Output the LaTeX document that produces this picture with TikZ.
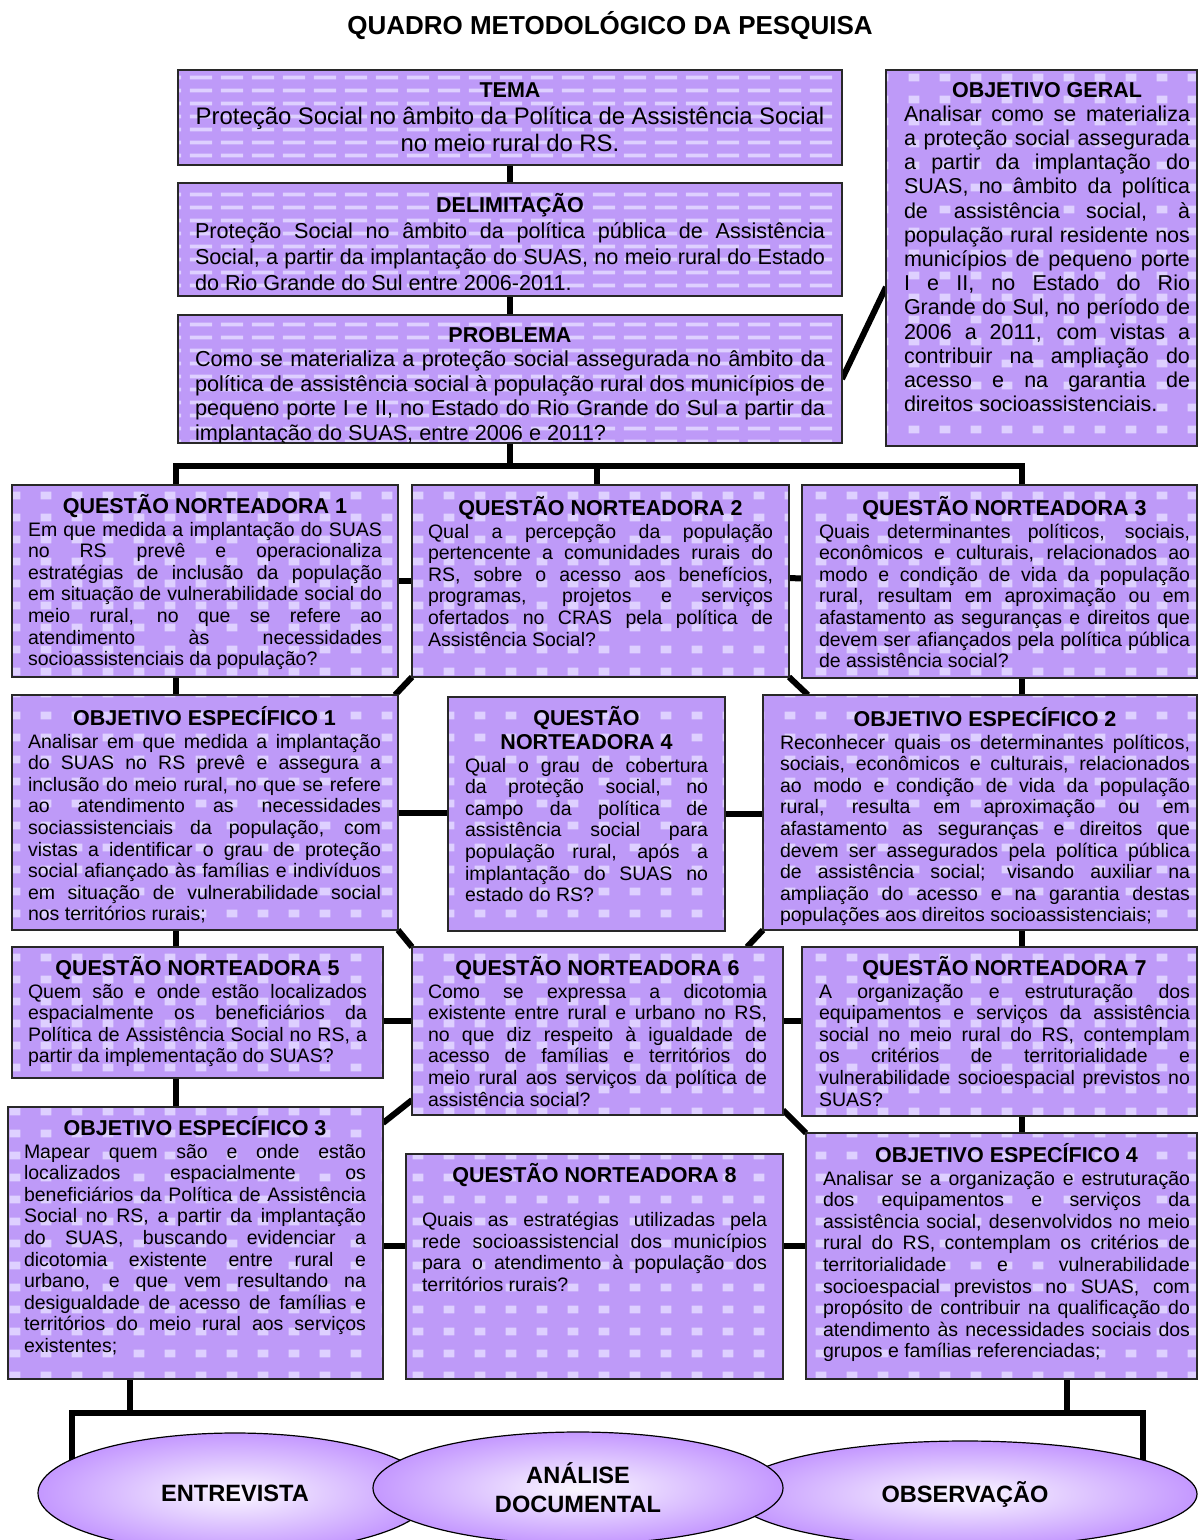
\documentclass[tikz,border=0pt]{standalone}
\usepackage{fontspec}
\setmainfont{Liberation Sans}
\usetikzlibrary{calc,shapes.geometric,patterns.meta}
\definecolor{lil}{RGB}{190,154,248}
\definecolor{lilt}{RGB}{222,208,255}
\definecolor{ellc}{RGB}{196,152,255}
\definecolor{edge}{RGB}{40,40,40}
\pgfdeclarelayer{bg}
\pgfsetlayers{bg,main}
\tikzdeclarepattern{name=tiles,type=uncolored,bottom left={(0pt,0pt)},top right={(31pt,22pt)},tile size={(31pt,22pt)},code={\fill (10pt,7pt) rectangle (21pt,15pt);}}
\tikzdeclarepattern{name=bands,type=uncolored,bottom left={(0pt,0pt)},top right={(31pt,13pt)},tile size={(31pt,13pt)},code={\fill (4pt,5pt) rectangle (27pt,9pt);}}
\newcommand\mybody{\fontsize{19.5}{21.6}\selectfont}
\newcommand\mytitle[1]{{\fontsize{21.5}{22}\selectfont\bfseries\centering #1\par}\vspace{1.4pt}}
\newcommand\jb{\linebreak}
\hyphenpenalty=10000
\exhyphenpenalty=10000
\tikzset{
  boxbase/.style={draw=edge, line width=1.6pt, preaction={fill=lil}, pattern color=lilt, inner sep=0pt, outer sep=0pt, anchor=north west},
  tbox/.style={boxbase, pattern=tiles},
  sbox/.style={boxbase, pattern=bands},
  txt/.style={anchor=base west, inner sep=0pt, outer sep=0pt, align=justify, font=\mybody},
  conn/.style={line width=6pt, draw=black, line join=miter},
  ell/.style={ellipse, draw=black, line width=1.2pt, inner color=ellc!8, outer color=ellc, font=\fontsize{23.6}{29}\selectfont\bfseries, align=center, inner sep=0pt}
}
\newcommand\mkbox[6][tbox]{\node[#1, minimum width={#5-#3}, minimum height={#6-#4}] (#2) at (#3,#4) {};}
\begin{document}
\begin{tikzpicture}[x=1pt,y=-1pt]
\useasboundingbox (0,0) rectangle (1198,1540);
\begin{pgfonlayer}{bg}
\fill[white] (0,0) rectangle (1198,1540);
\end{pgfonlayer}

\node[font=\fontsize{26}{30}\selectfont\bfseries, anchor=base, inner sep=0pt] (title) at (610,34) {QUADRO METODOLÓGICO DA PESQUISA};

% boxes
\mkbox[sbox]{tema}{178}{70}{842}{165}
\mkbox[sbox]{delim}{178}{183}{842}{296}
\mkbox[sbox]{prob}{178}{315}{842}{443}
\mkbox{og}{886}{70}{1197}{446}
\mkbox{qn1}{12}{485}{398}{677}
\mkbox{qn2}{412}{485}{789}{677}
\mkbox{qn3}{802}{485}{1197}{678}
\mkbox{oe1}{12}{695}{398}{930}
\mkbox{qn4}{448}{697}{725}{931}
\mkbox{oe2}{763}{695}{1197}{930}
\mkbox{qn5}{12}{947}{383}{1078}
\mkbox{qn6}{412}{947}{783}{1115}
\mkbox{qn7}{802}{947}{1197}{1116}
\mkbox{oe3}{8}{1107}{383}{1379}
\mkbox{qn8}{406}{1154}{783}{1379}
\mkbox{oe4}{806}{1133}{1197}{1379}

% texts
\node[txt, anchor=base, align=center, text width=660pt] (temat) at (510,97)
  {{\fontsize{21.5}{22}\selectfont\bfseries TEMA\par}{\fontsize{23.9}{27}\selectfont Proteção Social no âmbito da Política de Assistência Social\\ no meio rural do RS.\par}};
\node[txt, text width=630pt] (delimt) at (195,212)
  {{\fontsize{21.5}{22}\selectfont\bfseries\centering DELIMITAÇÃO\par}{\fontsize{21.6}{26}\selectfont Proteção Social no âmbito da política pública de Assistência\jb Social, a partir da implantação do SUAS, no meio rural do Estado\jb do Rio Grande do Sul entre 2006-2011.\par}};
\begin{scope}
\clip ($(prob.north west)+(1,1)$) rectangle ($(prob.south east)+(-1,-1)$);
\node[txt, text width=630pt] (probt) at (195,342)
  {{\fontsize{21.5}{22}\selectfont\bfseries\centering PROBLEMA\par}{\fontsize{21.7}{24.5}\selectfont Como se materializa a proteção social assegurada no âmbito da\jb política de assistência social à população rural dos municípios de\jb pequeno porte I e II, no Estado do Rio Grande do Sul a partir da\jb implantação do SUAS, entre 2006 e 2011?\par}};
\end{scope}
\node[txt, text width=286pt] (ogt) at (904,97)
  {{\fontsize{21.5}{22}\selectfont\bfseries\centering OBJETIVO GERAL\par}{\fontsize{21.5}{24.2}\selectfont Analisar como se materializa\jb a proteção social assegurada\jb a partir da implantação do\jb SUAS, no âmbito da política\jb de assistência social, à\jb população rural residente nos\jb municípios de pequeno porte\jb I e II, no Estado do Rio\jb Grande do Sul, no período de\jb 2006 a 2011, com vistas a\jb contribuir na ampliação do\jb acesso e na garantia de\jb direitos socioassistenciais.\par}};

\node[txt, text width=354pt] (qn1t) at (28,513)
  {\mytitle{QUESTÃO NORTEADORA 1}Em que medida a implantação do SUAS\jb no RS prevê e operacionaliza\jb estratégias de inclusão da população\jb em situação de vulnerabilidade social do\jb meio rural, no que se refere ao\jb atendimento às necessidades\jb socioassistenciais da população?};
\node[txt, text width=345pt] (qn2t) at (428,515)
  {\mytitle{QUESTÃO NORTEADORA 2}Qual a percepção da população\jb pertencente a comunidades rurais do\jb RS, sobre o acesso aos benefícios,\jb programas, projetos e serviços\jb ofertados no CRAS pela política de\jb Assistência Social?};
\node[txt, text width=371pt] (qn3t) at (819,515)
  {\mytitle{QUESTÃO NORTEADORA 3}Quais determinantes políticos, sociais,\jb econômicos e culturais, relacionados ao\jb modo e condição de vida da população\jb rural, resultam em aproximação ou em\jb afastamento as seguranças e direitos que\jb devem ser afiançados pela política pública\jb de assistência social?};
\node[txt, text width=353pt] (oe1t) at (28,725)
  {\mytitle{OBJETIVO ESPECÍFICO 1}Analisar em que medida a implantação\jb do SUAS no RS prevê e assegura a\jb inclusão do meio rural, no que se refere\jb ao atendimento as necessidades\jb sociassistenciais da população, com\jb vistas a identificar o grau de proteção\jb social afiançado às famílias e indivíduos\jb em situação de vulnerabilidade social\jb nos territórios rurais;};
\node[txt, text width=243pt] (qn4t) at (465,725)
  {{\fontsize{21.5}{24}\selectfont\bfseries\centering QUESTÃO\\NORTEADORA 4\par}\vspace{1.4pt}Qual o grau de cobertura\jb da proteção social, no\jb campo da política de\jb assistência social para\jb população rural, após a\jb implantação do SUAS no\jb estado do RS?};
\node[txt, text width=410pt] (oe2t) at (780,726)
  {\mytitle{OBJETIVO ESPECÍFICO 2}Reconhecer quais os determinantes políticos,\jb sociais, econômicos e culturais, relacionados\jb ao modo e condição de vida da população\jb rural, resulta em aproximação ou em\jb afastamento as seguranças e direitos que\jb devem ser assegurados pela política pública\jb de assistência social; visando auxiliar na\jb ampliação do acesso e na garantia destas\jb populações aos direitos socioassistenciais;};
\node[txt, text width=339pt] (qn5t) at (28,975)
  {\mytitle{QUESTÃO NORTEADORA 5}Quem são e onde estão localizados\jb espacialmente os beneficiários da\jb Política de Assistência Social no RS, a\jb partir da implementação do SUAS?};
\node[txt, text width=339pt] (qn6t) at (428,975)
  {\mytitle{QUESTÃO NORTEADORA 6}Como se expressa a dicotomia\jb existente entre rural e urbano no RS,\jb no que diz respeito à igualdade de\jb acesso de famílias e territórios do\jb meio rural aos serviços da política de\jb assistência social?};
\node[txt, text width=371pt] (qn7t) at (819,975)
  {\mytitle{QUESTÃO NORTEADORA 7}A organização e estruturação dos\jb equipamentos e serviços da assistência\jb social no meio rural do RS, contemplam\jb os critérios de territorialidade e\jb vulnerabilidade socioespacial previstos no\jb SUAS?};
\node[txt, text width=342pt] (oe3t) at (24,1135)
  {\mytitle{OBJETIVO ESPECÍFICO 3}Mapear quem são e onde estão\jb localizados espacialmente os\jb beneficiários da Política de Assistência\jb Social no RS, a partir da implantação\jb do SUAS, buscando evidenciar a\jb dicotomia existente entre rural e\jb urbano, e que vem resultando na\jb desigualdade de acesso de famílias e\jb territórios do meio rural aos serviços\jb existentes;};
\node[txt, text width=345pt] (qn8t) at (422,1182)
  {\mytitle{QUESTÃO NORTEADORA 8}\vspace{21.6pt}Quais as estratégias utilizadas pela\jb rede socioassistencial dos municípios\jb para o atendimento à população dos\jb territórios rurais?};
\node[txt, text width=367pt] (oe4t) at (823,1162)
  {\mytitle{OBJETIVO ESPECÍFICO 4}Analisar se a organização e estruturação\jb dos equipamentos e serviços da\jb assistência social, desenvolvidos no meio\jb rural do RS, contemplam os critérios de\jb territorialidade e vulnerabilidade\jb socioespacial previstos no SUAS, com\jb propósito de contribuir na qualificação do\jb atendimento às necessidades sociais dos\jb grupos e famílias referenciadas;};

% ellipses
\node[ell, minimum width=394pt, minimum height=120pt] (ent) at (235,1493) {ENTREVISTA};
\node[ell, minimum width=464pt, minimum height=106pt] (obs) at (965,1494) {OBSERVAÇÃO};
\node[ell, minimum width=410pt, minimum height=112pt] (ana) at (578,1488) {ANÁLISE\\DOCUMENTAL};

% junction coordinates
\coordinate (busL) at (176,466);
\coordinate (busM) at (597,466);
\coordinate (busR) at (1022,466);
\coordinate (h56) at (0,1021);
\coordinate (h8) at (0,1246);
\coordinate (j3) at (130,1413);
\coordinate (j4) at (1067,1413);
\coordinate (bl) at (72,1413);
\coordinate (br) at (1143,1413);

\begin{pgfonlayer}{bg}
\draw[conn] (tema) -- (delim);
\draw[conn] (delim) -- (prob);
\draw[conn] (prob.center) -- (prob.center |- busL);
\draw[conn] (qn1.north -| busL) -- (busL) -- (busR) -- (qn3.north -| busR);
\draw[conn] (busM) -- (qn2.north -| busM);
\draw[conn] (prob.east) -- ($(og.west)+(0,29)$);
\draw[conn] (qn1) -- (qn2);
\draw[conn] ($(qn2.east)+(0,-3)$) -- ($(qn3.west)+(0,-3)$);
\draw[conn] (qn1.south -| busL) -- (oe3.north -| busL);
\draw[conn] (qn3.south -| busR) -- (oe4.north -| busR);
\draw[conn] (qn2.south west) -- ($(oe1.north east)+(-3,0)$);
\draw[conn] (qn2.south east) -- ($(oe2.north west)+(45,0)$);
\draw[conn] (oe1.east) -- (oe1.east -| qn4.west);
\draw[conn] (qn4.east) -- (qn4.east -| oe2.west);
\draw[conn] (oe1.south east) -- (qn6.north west);
\draw[conn] (oe2.south west) -- ($(qn6.north east)+(-36,0)$);
\draw[conn] (qn5.east |- h56) -- (qn7.west |- h56);
\draw[conn] ($(qn6.south west)+(0,-15)$) -- ($(oe3.north east)+(0,16)$);
\draw[conn] ($(qn6.south east)+(0,-5)$) -- (oe4.north west);
\draw[conn] (oe3.east |- h8) -- (oe4.west |- h8);
\draw[conn] (oe3.south -| j3) -- (j3);
\draw[conn] (oe4.south -| j4) -- (j4);
\draw[conn] (ent.center -| bl) -- (bl) -- (br) -- (obs.center -| br);
\end{pgfonlayer}
\end{tikzpicture}
\end{document}
